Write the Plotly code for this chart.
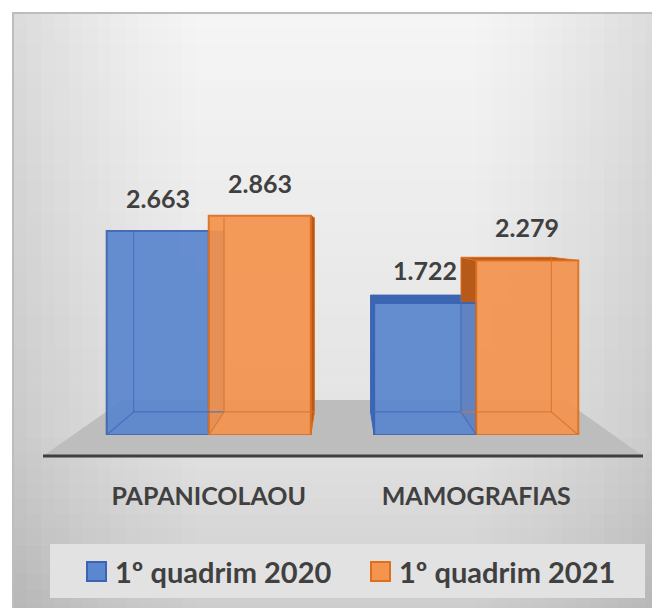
import plotly.graph_objects as go

# ---------------- data ----------------
categories = ["PAPANICOLAOU", "MAMOGRAFIAS"]
series_names = ["1º quadrim 2020", "1º quadrim 2021"]
values_2020 = [2663, 1722]
values_2021 = [2863, 2279]
series_values = [values_2020, values_2021]

# ---------------- style ----------------
OFF = 8                      # default page margin of the html body
W, H = 660 - OFF, 608 - OFF
ML, MR, MT, MB = 67, 50, 32, 173
PW = W - ML - MR
PH = H - MT - MB
YMAX = 5157
BARGAP = 0.237
FONT = "Lato, 'Open Sans', sans-serif"
TXT = "#404040"

fills = ["#5B87CE", "#F4944F"]
edges = ["#3A64B4", "#DD6F1E"]
sides = ["#3D66B2", "#B65A1A"]
inner = ["#3F6CBE", "#D8742C"]

VPX, VPY, K = 0.5, 2637, 0.886  # perspective vanishing point (data coords)


def px(x):
    """page pixel x -> paper"""
    return (x - OFF - ML) / PW


def py(y):
    """page pixel y -> paper"""
    return (H - MB - (y - OFF)) / PH


def path(pts):
    return "M " + " L ".join(f"{a:.5f},{b:.5f}" for a, b in pts) + " Z"


def back(x, y):
    return (VPX + (x - VPX) * K, VPY + (y - VPY) * K)


shapes = []

# background frame with gradient
top_c = (245, 245, 245)
mid_c = (227, 227, 227)
bot_c = (205, 205, 205)
N = 40
y0, y1 = 13, 620
for i in range(N):
    ya = y0 + (y1 - y0) * i / N
    yb = y0 + (y1 - y0) * (i + 1) / N + 0.5
    t = i / (N - 1)
    if t < 0.7:
        u = t / 0.7
        c = [int(top_c[j] + (mid_c[j] - top_c[j]) * u) for j in range(3)]
    else:
        u = (t - 0.7) / 0.3
        c = [int(mid_c[j] + (bot_c[j] - mid_c[j]) * u) for j in range(3)]
    shapes.append(dict(type="rect", xref="paper", yref="paper", layer="below",
                       x0=px(13), x1=px(680), y0=py(ya), y1=py(yb),
                       fillcolor=f"rgb({c[0]},{c[1]},{c[2]})", line=dict(width=0)))
# side vignettes
NS = 14
for i in range(NS):
    op = 0.10 * (1 - i / NS) ** 1.5
    xa = 13 + i * 14
    shapes.append(dict(type="rect", xref="paper", yref="paper", layer="below",
                       x0=px(xa), x1=px(xa + 14), y0=py(13), y1=py(620),
                       fillcolor="black", opacity=op, line=dict(width=0)))
    xb = 660 - i * 14
    shapes.append(dict(type="rect", xref="paper", yref="paper", layer="below",
                       x0=px(xb - 14), x1=px(xb), y0=py(13), y1=py(620),
                       fillcolor="black", opacity=op, line=dict(width=0)))
# frame border
shapes.append(dict(type="rect", xref="paper", yref="paper", layer="below",
                   x0=px(13), x1=px(680), y0=py(13), y1=py(630),
                   fillcolor="rgba(0,0,0,0)", line=dict(color="#BDBDBD", width=2)))

# floor
shapes.append(dict(type="path", xref="paper", yref="paper", layer="below",
                   path=path([(px(43), py(456)), (px(643), py(456)),
                              (px(564), py(400)), (px(123), py(400))]),
                   fillcolor="#BDBDBD", line=dict(width=0)))
shapes.append(dict(type="line", xref="paper", yref="paper", layer="below",
                   x0=px(43), x1=px(643), y0=py(456), y1=py(456),
                   line=dict(color="#3F3F3F", width=3)))

# 3-D faces of bars
bw = (1 - BARGAP) / 2
offsets = [-bw, 0.0]
above_lines = []
for s, vals in enumerate(series_values):
    for i, v in enumerate(vals):
        x0 = i + offsets[s]
        x1 = x0 + bw
        if x1 < VPX:
            pts = [(x1, 0), (x1, v), back(x1, v), back(x1, 0)]
            shapes.append(dict(type="path", xref="x", yref="y", layer="below",
                               path=path(pts), fillcolor=sides[s],
                               line=dict(color=edges[s], width=1)))
        if x0 > VPX:
            pts = [(x0, 0), (x0, v), back(x0, v), back(x0, 0)]
            shapes.append(dict(type="path", xref="x", yref="y", layer="below",
                               path=path(pts), fillcolor=sides[s],
                               line=dict(color=edges[s], width=1)))
        if v < VPY:
            pts = [(x0, v), (x1, v), back(x1, v), back(x0, v)]
            shapes.append(dict(type="path", xref="x", yref="y", layer="below",
                               path=path(pts), fillcolor=sides[s],
                               line=dict(color=edges[s], width=1)))
        far = x0 if (x0 + x1) / 2 < VPX else x1
        bx, by0 = back(far, 0)
        _, byv = back(far, v)
        bxa, _ = back(x0, 0)
        bxb, _ = back(x1, 0)
        for (ax, ay, cx, cy) in [(bx, by0, bx, byv), (bxa, by0, bxb, by0),
                                 (far, 0, bx, by0)]:
            above_lines.append(dict(type="line", xref="x", yref="y", layer="above",
                                    x0=ax, y0=ay, x1=cx, y1=cy,
                                    line=dict(color=inner[s], width=1.2), opacity=0.8))
shapes.extend(above_lines)

# manual legend
shapes.append(dict(type="rect", xref="paper", yref="paper", layer="below",
                   x0=px(50), x1=px(645), y0=py(544), y1=py(598),
                   fillcolor="#E2E2E2", line=dict(width=0)))
legend_sq_x = [87, 371]
legend_tx_x = [113, 397]
annotations = []
for s in range(2):
    shapes.append(dict(type="rect", xref="paper", yref="paper", layer="above",
                       x0=px(legend_sq_x[s]), x1=px(legend_sq_x[s] + 19),
                       y0=py(562), y1=py(581),
                       fillcolor=fills[s], line=dict(color=edges[s], width=2)))
    annotations.append(dict(xref="paper", yref="paper", x=px(legend_tx_x[s]), y=py(571),
                            xanchor="left", yanchor="middle", showarrow=False,
                            text=series_names[s],
                            font=dict(family=FONT, size=29, color=TXT, weight="bold")))

# value labels
for s, vals in enumerate(series_values):
    for i, v in enumerate(vals):
        annotations.append(dict(xref="x", yref="y", x=i + offsets[s] + bw / 2, y=v,
                                xanchor="center", yanchor="bottom", yshift=16,
                                showarrow=False,
                                text=f"{v:,}".replace(",", "."),
                                font=dict(family=FONT, size=25, color=TXT, weight="bold")))

fig = go.Figure()
for s, vals in enumerate(series_values):
    fig.add_trace(go.Bar(x=categories, y=vals, name=series_names[s],
                         marker=dict(color=fills[s], line=dict(color=edges[s], width=2)),
                         opacity=0.93, showlegend=False, hoverinfo="skip"))

fig.update_layout(
    width=W, height=H,
    margin=dict(l=ML, r=MR, t=MT, b=MB),
    barmode="group", bargap=BARGAP, bargroupgap=0,
    paper_bgcolor="white", plot_bgcolor="rgba(0,0,0,0)",
    showlegend=False,
    shapes=shapes, annotations=annotations,
    xaxis=dict(showgrid=False, zeroline=False, showline=False, ticks="",
               ticklabelstandoff=44,
               tickfont=dict(family=FONT, size=25, color=TXT, weight="bold")),
    yaxis=dict(range=[0, YMAX], visible=False, showgrid=False, zeroline=False),
)

fig.write_html("out.html")
